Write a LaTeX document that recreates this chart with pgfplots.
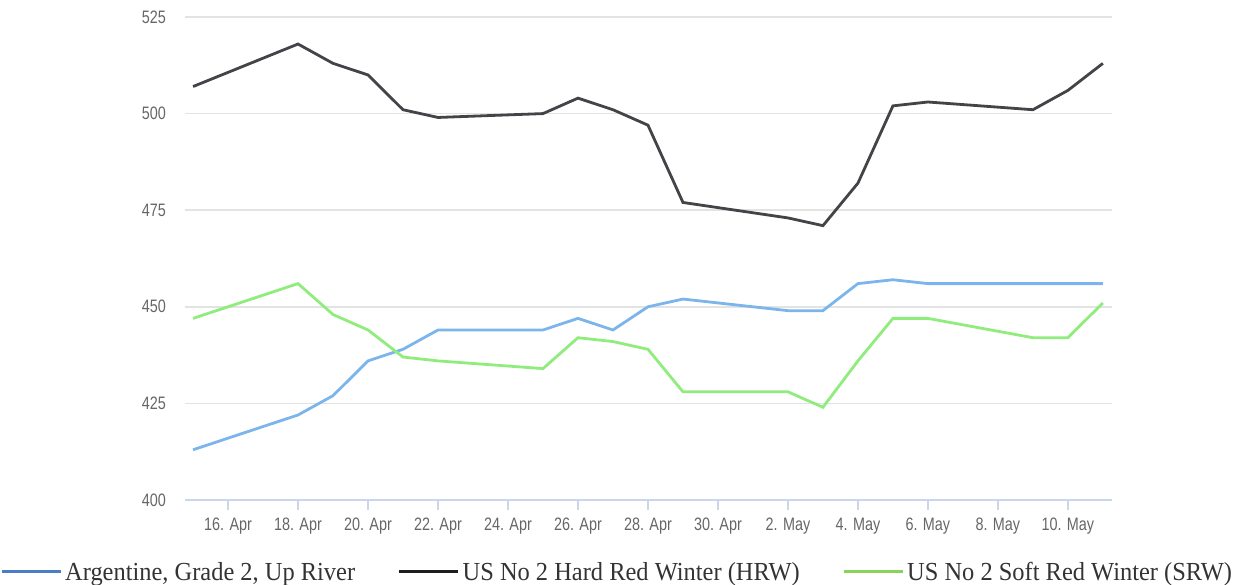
\documentclass[border=0pt]{standalone}
\usepackage{pgfplots}
\pgfplotsset{compat=1.18}
\usepackage{fontspec}
\setmainfont{Liberation Serif}
\newfontfamily\tickfont[FakeStretch=0.8]{Liberation Sans}
\newfontfamily\legfont[FakeStretch=0.94]{Liberation Serif}
\definecolor{cblue}{HTML}{7CB5EC}
\definecolor{cblack}{HTML}{434348}
\definecolor{cgreen}{HTML}{90ED7D}
\definecolor{lblue}{HTML}{4A7EC4}
\definecolor{lblack}{HTML}{1E1E1E}
\definecolor{lgreen}{HTML}{8AD35B}
\definecolor{gridc}{HTML}{E3E3E3}
\definecolor{axc}{HTML}{CCD6EB}
\definecolor{tickc}{HTML}{666666}
\definecolor{legtext}{HTML}{333333}
\begin{document}
\begin{tikzpicture}
\begin{axis}[
  name=ax,
  scale only axis,
  width=927pt, height=483pt,
  xmin=-1.23, xmax=25.26,
  ymin=400, ymax=525,
  ytick={400,425,450,475,500,525},
  xtick={0,2,4,6,8,10,12,14,16,18,20,22,24},
  xticklabels={16. Apr,18. Apr,20. Apr,22. Apr,24. Apr,26. Apr,28. Apr,30. Apr,2. May,4. May,6. May,8. May,10. May},
  axis lines*=left,
  y axis line style={draw=none},
  x axis line style={-, color=axc, line width=1.5pt},
  ymajorgrids,
  major grid style={color=gridc, line width=1.5pt},
  ytick style={draw=none},
  xtick style={color=axc, line width=1.2pt},
  major tick length=10pt,
  tick align=outside,
  /pgf/number format/assume math mode=true,
  ticklabel style={font=\tickfont\fontsize{18}{20}\selectfont, text=tickc},
  yticklabel style={inner sep=0pt, xshift=-9pt},
  xticklabel style={inner sep=0pt, yshift=-8pt},
  legend columns=3,
  legend image code/.code={\draw[#1] (0pt,0pt) -- (59pt,0pt);},
  legend style={
    at={(axis description cs:-0.1996,-0.1698)}, anchor=south west,
    draw=none, fill=none, inner sep=0pt,
    font=\legfont\fontsize{26}{29}\selectfont, text=legtext,
    nodes={inner sep=0pt},
    /tikz/every odd column/.append style={column sep=3pt},
    /tikz/every even column/.append style={column sep=42.5pt},
  },
]
\addplot[color=cblue, line width=2.8pt, forget plot] coordinates {
(-1,413) (2,422) (3,427) (4,436) (5,439) (6,444) (9,444) (10,447) (11,444) (12,450) (13,452) (16,449) (17,449) (18,456) (19,457) (20,456) (23,456) (24,456) (25,456)
};
\addplot[color=cblack, line width=2.8pt, forget plot] coordinates {
(-1,507) (2,518) (3,513) (4,510) (5,501) (6,499) (9,500) (10,504) (11,501) (12,497) (13,477) (16,473) (17,471) (18,482) (19,502) (20,503) (23,501) (24,506) (25,513)
};
\addplot[color=cgreen, line width=2.8pt, forget plot] coordinates {
(-1,447) (2,456) (3,448) (4,444) (5,437) (6,436) (9,434) (10,442) (11,441) (12,439) (13,428) (16,428) (17,424) (18,436) (19,447) (20,447) (23,442) (24,442) (25,451)
};
\addlegendimage{color=lblue, line width=3pt}
\addlegendentry{Argentine, Grade 2, Up River}
\addlegendimage{color=lblack, line width=3pt}
\addlegendentry{US No 2 Hard Red Winter (HRW)}
\addlegendimage{color=lgreen, line width=3pt}
\addlegendentry{US No 2 Soft Red Winter (SRW)}
\end{axis}
\pgfresetboundingbox
\path (ax.south west) ++(-185pt,500pt) rectangle ++(1235pt,-585pt);
\end{tikzpicture}
\end{document}
